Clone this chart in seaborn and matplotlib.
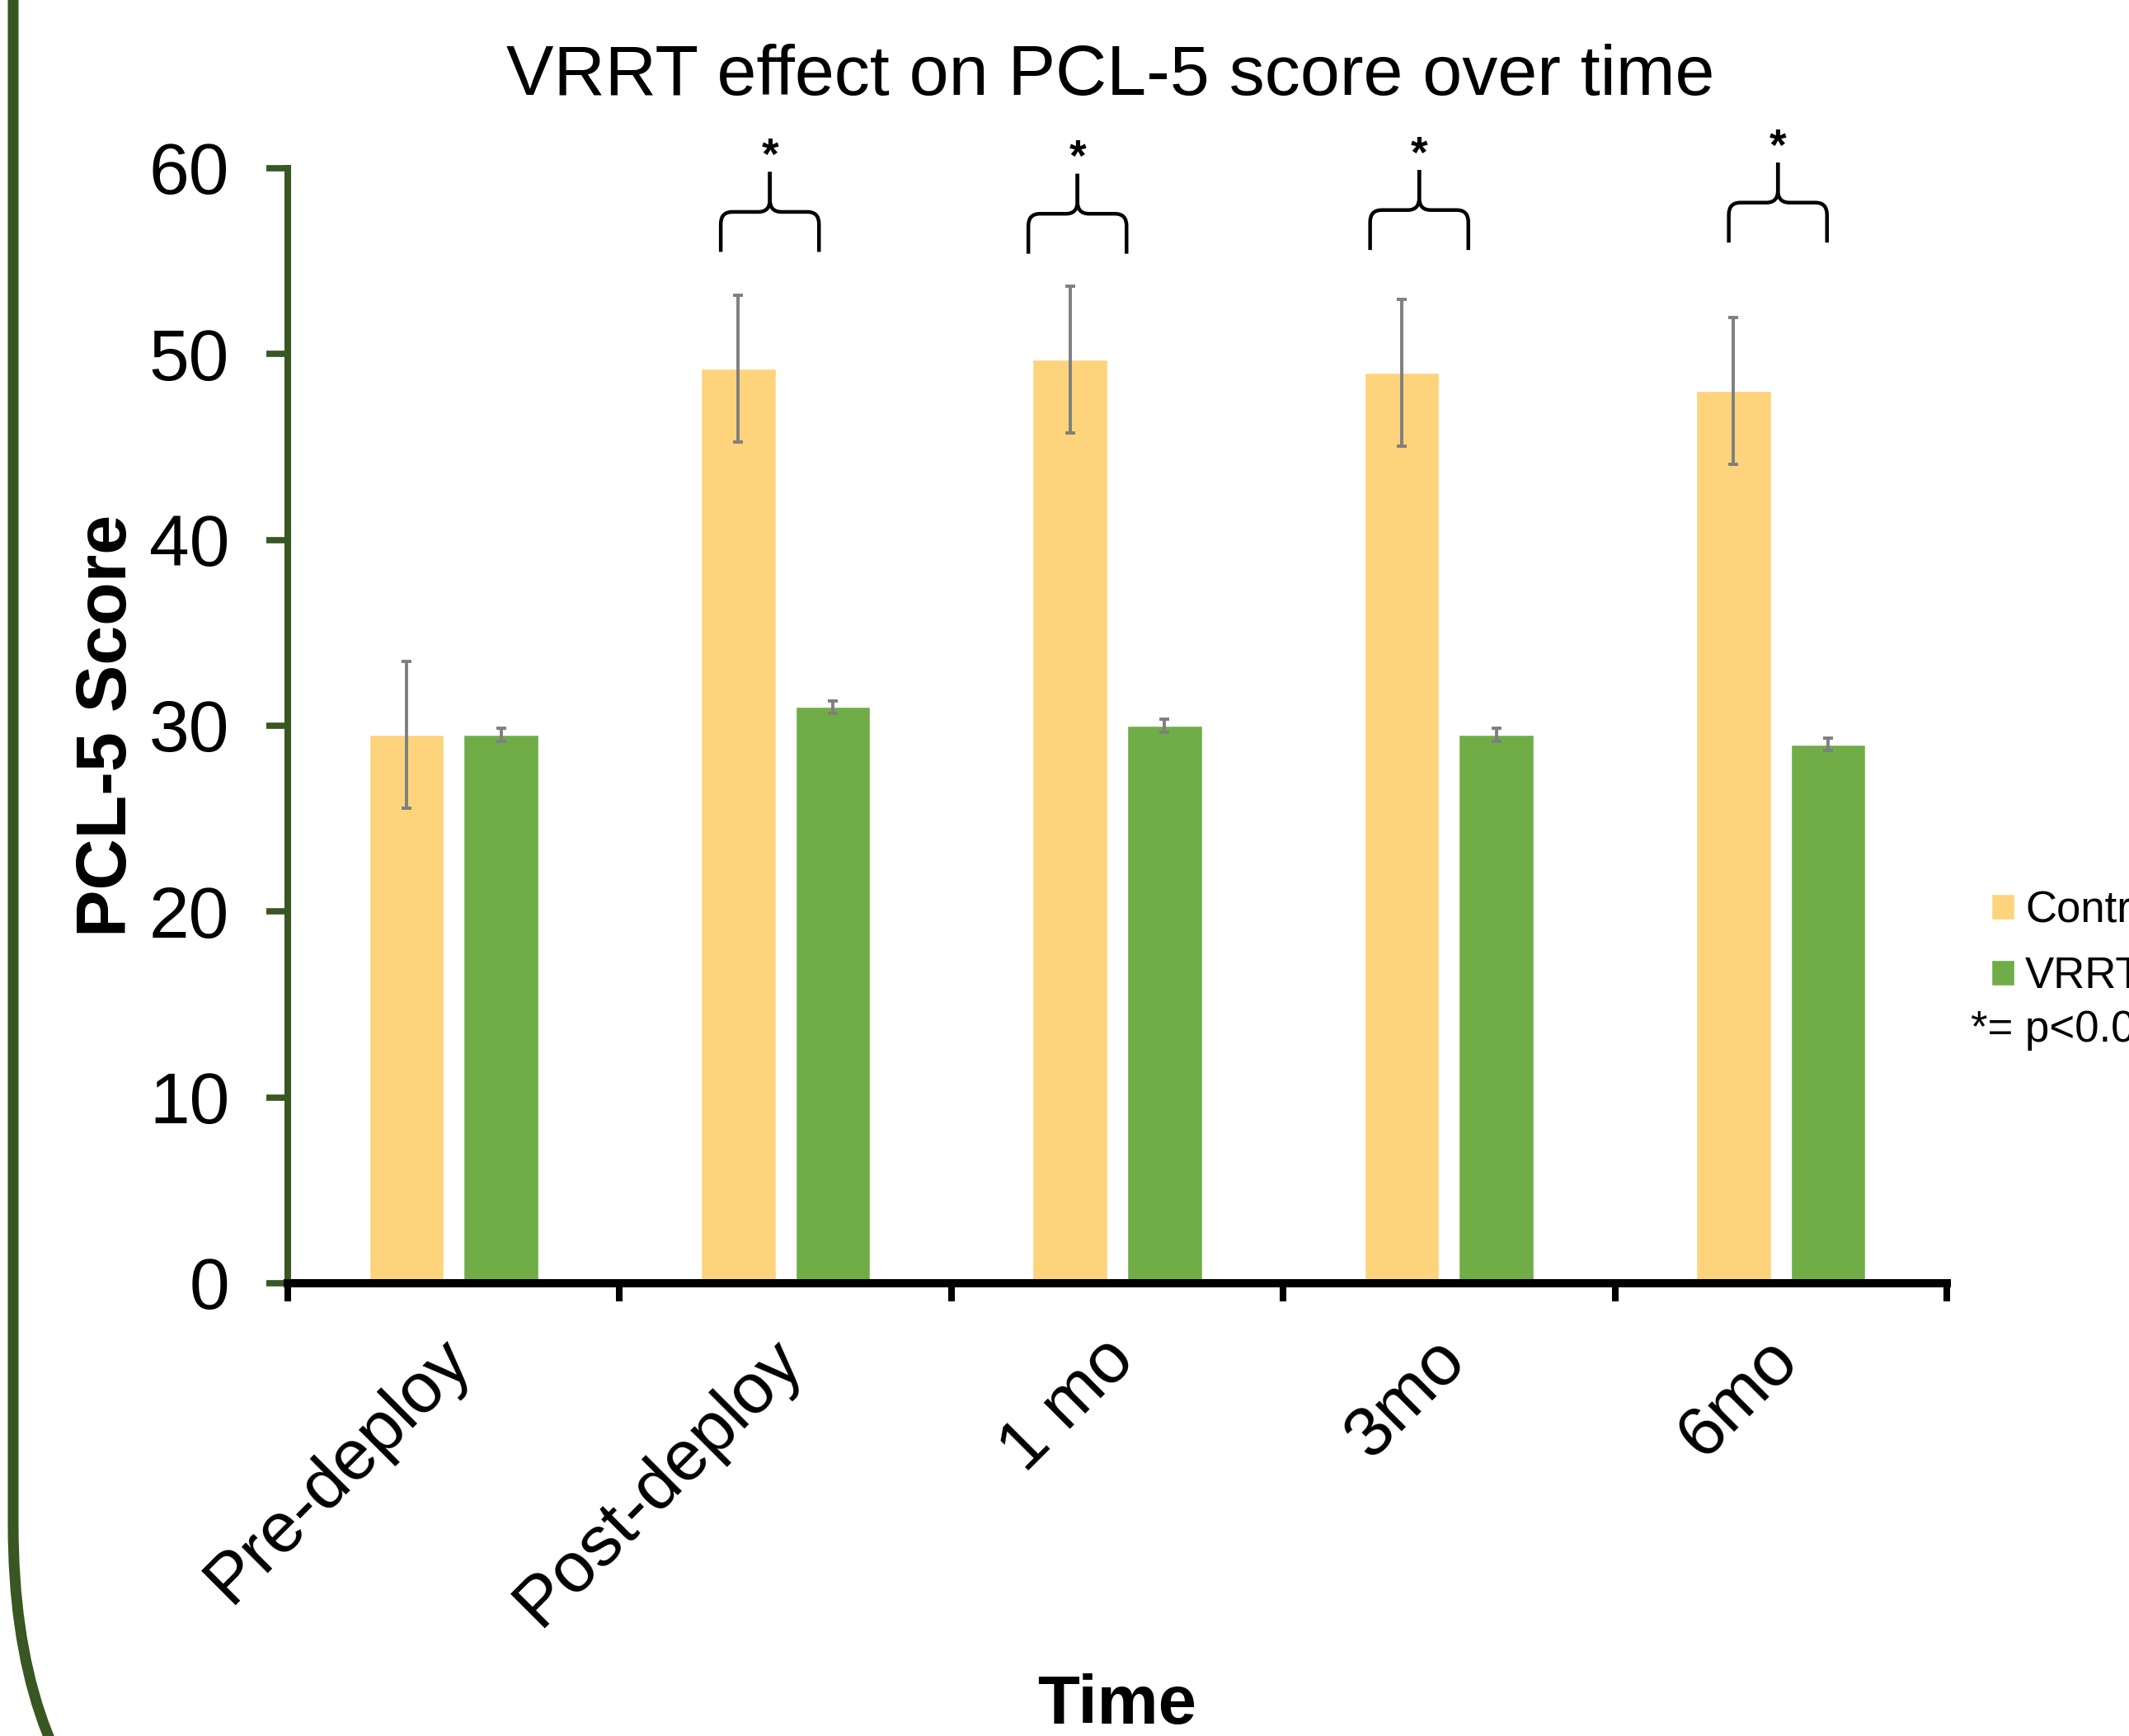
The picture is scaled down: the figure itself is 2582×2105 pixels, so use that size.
import numpy as np
import pandas as pd
import matplotlib
matplotlib.use('Agg')
import matplotlib.pyplot as plt
import matplotlib.transforms as mtransforms
import seaborn as sns
from matplotlib.path import Path
from matplotlib.patches import PathPatch, FancyBboxPatch

# valores
timepoints = ['Pre-deploy', 'Post-deploy', '1 mo', '3mo', '6mo']
groups = ['Control', 'VRRT']
control_mean = [29.5, 49.2, 49.7, 49.0, 48.0]
vrrt_mean = [29.5, 31.0, 30.0, 29.5, 29.0]
control_err = [3.95, 3.95, 3.95, 3.95, 3.95]
vrrt_err = [0.35, 0.35, 0.35, 0.35, 0.35]

# chaves de significancia (p<0.05)
sig_timepoints = ['Post-deploy', '1 mo', '3mo', '6mo']
sig_shift = [-0.047, -0.12, -0.09, -0.009]
sig_base = [55.5, 55.4, 55.6, 56.0]

cor_controle = '#FDD47C'
cor_vrrt = '#70AD47'
verde = '#385723'

df = pd.DataFrame({
    'Time': timepoints * 2,
    'Group': [groups[0]] * len(timepoints) + [groups[1]] * len(timepoints),
    'Score': control_mean + vrrt_mean,
})

sns.set_style('ticks')
plt.rcParams['font.family'] = ['Liberation Sans', 'DejaVu Sans']
plt.rcParams['text.color'] = 'black'
plt.rcParams['axes.labelcolor'] = 'black'
plt.rcParams['xtick.labelcolor'] = 'black'
plt.rcParams['ytick.labelcolor'] = 'black'

W, H = 2582, 2105
fig = plt.figure(figsize=(W / 100, H / 100), dpi=100)
fig.patch.set_facecolor('white')
ax = fig.add_axes([349 / W, 1 - 1556 / H, (2361 - 349) / W, (1556 - 204) / H])

sns.barplot(data=df, x='Time', y='Score', hue='Group', order=timepoints,
            hue_order=groups, palette=[cor_controle, cor_vrrt], saturation=1,
            width=0.57, gap=0.21, errorbar=None, legend=False, ax=ax)

# barras de erro
for cont, erros in zip(ax.containers, [control_err, vrrt_err]):
    xs = [b.get_x() + b.get_width() / 2 for b in cont]
    ys = [b.get_height() for b in cont]
    ax.errorbar(xs, ys, yerr=erros, fmt='none', ecolor='#7F7F7F',
                elinewidth=2.8, capsize=4.5, capthick=2.8, zorder=3)


def chave(ax, xc, meia, base):
    h = base + 2.15
    topo = base + 4.3
    rx, ry = 0.035, 0.65
    for s in (-1, 1):
        xe = xc + s * meia
        verts = [(xe, base), (xe, h - ry), (xe, h), (xe - s * rx, h),
                 (xc + s * rx, h), (xc, h), (xc, h + ry), (xc, topo)]
        codes = [Path.MOVETO, Path.LINETO, Path.CURVE3, Path.CURVE3,
                 Path.LINETO, Path.CURVE3, Path.CURVE3, Path.LINETO]
        ax.add_patch(PathPatch(Path(verts, codes), fill=False, lw=3.2,
                               edgecolor='black', clip_on=False,
                               joinstyle='round', capstyle='butt'))
    ax.text(xc, base + 4.45, '*', ha='center', va='baseline', fontsize=38,
            fontweight='bold', clip_on=False)


for t, dx, b in zip(sig_timepoints, sig_shift, sig_base):
    chave(ax, timepoints.index(t) + dx, 0.148, b)

# eixos
ax.set_ylim(0, 60)
ax.set_xlim(-0.5, len(timepoints) - 0.5)
ax.set_yticks(range(0, 61, 10))
ax.set_xticks(range(len(timepoints)), timepoints)
ax.set_xticks(np.arange(-0.5, len(timepoints), 1), minor=True)
ax.tick_params(axis='x', which='major', length=0, pad=58, labelsize=62,
               rotation=45)
ax.tick_params(axis='x', which='minor', length=16, width=5.8, color='black')
ax.tick_params(axis='y', length=19, width=5.5, color=verde, pad=32,
               labelsize=63)
desloc = mtransforms.ScaledTranslation(0.08, 0.0, fig.dpi_scale_trans)
for lbl in ax.get_xticklabels():
    lbl.set_ha('right')
    lbl.set_va('center')
    lbl.set_rotation_mode('anchor')
    lbl.set_transform(lbl.get_transform() + desloc)

sns.despine(ax=ax)
ax.spines['left'].set_color(verde)
ax.spines['left'].set_linewidth(5.8)
ax.spines['bottom'].set_color('black')
ax.spines['bottom'].set_linewidth(7.2)
ax.spines['bottom'].set_zorder(4)

ax.set_xlabel('Time', fontsize=60, fontweight='bold')
ax.xaxis.label.set_va('baseline')
ax.xaxis.set_label_coords(0.5, -(2090 - 1556) / 1352)
ax.set_ylabel('PCL-5 Score', fontsize=62, fontweight='bold')
ax.yaxis.label.set_va('center')
ax.yaxis.set_label_coords((131 - 349) / 2012, 0.5)
ax.set_title('VRRT effect on PCL-5 score over time', fontsize=62, pad=64,
             x=0.496)

# legenda (cortada na borda direita, como no original)
handles = [ax.containers[0][0], ax.containers[1][0]]
fig.legend(handles, groups, loc='center left',
           bbox_to_anchor=(2415 / W, 1 - 1144 / H), frameon=False,
           fontsize=38, handlelength=0.53, handleheight=0.53,
           handletextpad=0.25, labelspacing=0.57, borderpad=0,
           borderaxespad=0)
fig.text(2390 / W, 1 - 1263 / H, '*= p<0.05', fontsize=38, va='baseline')

# moldura verde arredondada
borda = FancyBboxPatch((0.16, -2.65), 40, 40,
                       boxstyle='round,pad=0,rounding_size=5.2',
                       transform=fig.dpi_scale_trans, fill=False,
                       edgecolor=verde, linewidth=9.4)
fig.add_artist(borda)

fig.savefig('out.png', dpi=100)
